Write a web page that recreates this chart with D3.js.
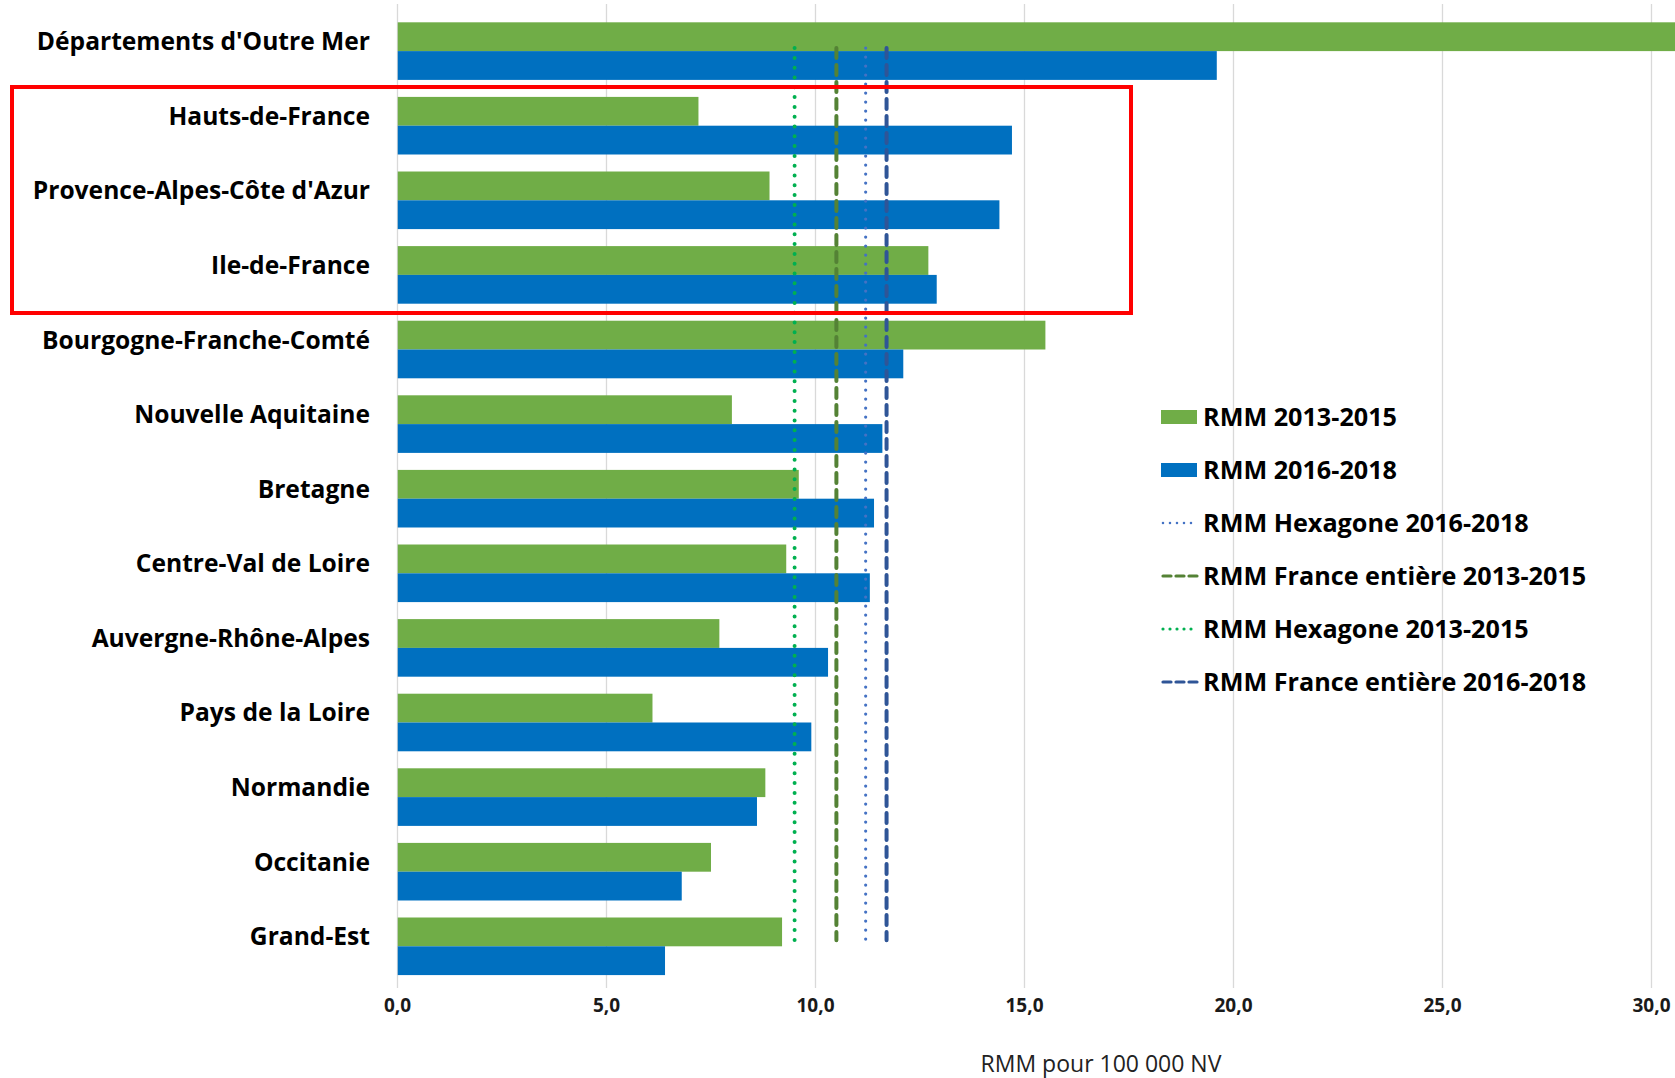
<!DOCTYPE html>
<html>
<head>
<meta charset="utf-8">
<script src="https://cdn.jsdelivr.net/npm/d3@7"></script>
<style>
  body { margin: 0; background: #fff; }
  svg { display: block; }
</style>
</head>
<body>
<script>
// regions, top to bottom
var regions = ["Départements d'Outre Mer", "Hauts-de-France", "Provence-Alpes-Côte d'Azur",
  "Ile-de-France", "Bourgogne-Franche-Comté", "Nouvelle Aquitaine", "Bretagne",
  "Centre-Val de Loire", "Auvergne-Rhône-Alpes", "Pays de la Loire", "Normandie",
  "Occitanie", "Grand-Est"];

var rmm1315 = [31.5, 7.2, 8.9, 12.7, 15.5, 8.0, 9.6, 9.3, 7.7, 6.1, 8.8, 7.5, 9.2];
var rmm1618 = [19.6, 14.7, 14.4, 12.9, 12.1, 11.6, 11.4, 11.3, 10.3, 9.9, 8.6, 6.8, 6.4];

// reference lines (national rates)
var refNames = ["RMM Hexagone 2016-2018", "RMM France entière 2013-2015",
  "RMM Hexagone 2013-2015", "RMM France entière 2016-2018"];
var refValues = [11.2, 10.5, 9.5, 11.7];

var xTicks = [0, 5, 10, 15, 20, 25, 30];

var width = 1675, height = 1078;
var font = "'Open Sans', Lato, sans-serif";

var svg = d3.select("body").append("svg")
  .attr("width", width)
  .attr("height", height);

svg.append("rect").attr("width", width).attr("height", height).attr("fill", "#fff");

var x = d3.scaleLinear().domain([0, 30]).range([397.5, 1651.5]);

var y = d3.scaleBand().domain(regions).range([5.3, 992.1])
  .paddingInner(0.228).paddingOuter(0.228);

var ySub = d3.scaleBand().domain(["a", "b"]).range([0, y.bandwidth()]);

svg.append("defs").append("clipPath").attr("id", "plot")
  .append("rect").attr("x", x(0)).attr("y", 0).attr("width", width - x(0)).attr("height", height);

// gridlines
svg.append("g").selectAll("line")
  .data(xTicks)
  .enter().append("line")
  .attr("x1", function(d) { return x(d); })
  .attr("x2", function(d) { return x(d); })
  .attr("y1", 4)
  .attr("y2", 988)
  .style("stroke", "#d9d9d9")
  .style("stroke-width", 1.3);

// bars
var bars = svg.append("g").attr("clip-path", "url(#plot)");

bars.selectAll("rect.a")
  .data(regions)
  .enter().append("rect")
  .attr("class", "a")
  .attr("x", x(0))
  .attr("y", function(d) { return y(d) + ySub("a"); })
  .attr("width", function(d, i) { return x(rmm1315[i]) - x(0); })
  .attr("height", ySub.bandwidth())
  .style("fill", "#70ad47");

bars.selectAll("rect.b")
  .data(regions)
  .enter().append("rect")
  .attr("class", "b")
  .attr("x", x(0))
  .attr("y", function(d) { return y(d) + ySub("b"); })
  .attr("width", function(d, i) { return x(rmm1618[i]) - x(0); })
  .attr("height", ySub.bandwidth())
  .style("fill", "#0070c0");

// line styles for the reference series
var refStyles = [
  { color: "#4472c4", width: 3.2, dash: "0,9" },
  { color: "#548235", width: 4, dash: "10,7" },
  { color: "#00b050", width: 4, dash: "0,9.8" },
  { color: "#2f5597", width: 4, dash: "10,7" }
];

var yTop = y(regions[0]) + y.bandwidth() / 2 - 3;
var yBot = y(regions[regions.length - 1]) + y.bandwidth() / 2 - 6;

svg.append("g").selectAll("line")
  .data(refValues)
  .enter().append("line")
  .attr("x1", function(d) { return x(d); })
  .attr("x2", function(d) { return x(d); })
  .attr("y1", yTop)
  .attr("y2", yBot)
  .style("stroke", function(d, i) { return refStyles[i].color; })
  .style("stroke-width", function(d, i) { return refStyles[i].width; })
  .style("stroke-dasharray", function(d, i) { return refStyles[i].dash; })
  .style("stroke-linecap", "round");

// category labels
svg.append("g").selectAll("text")
  .data(regions)
  .enter().append("text")
  .attr("x", 370)
  .attr("y", function(d) { return y(d) + y.bandwidth() / 2 - 1; })
  .attr("text-anchor", "end")
  .style("font-family", font)
  .style("font-weight", "bold")
  .style("font-size", "24.6px")
  .style("fill", "#000")
  .text(function(d) { return d; });

// x tick labels
svg.append("g").selectAll("text")
  .data(xTicks)
  .enter().append("text")
  .attr("x", function(d) { return x(d); })
  .attr("y", 1012)
  .attr("text-anchor", "middle")
  .style("font-family", font)
  .style("font-weight", "bold")
  .style("font-size", "19px")
  .style("fill", "#1a1a1a")
  .text(function(d) { return d3.format(".1f")(d).replace(".", ","); });

svg.append("text")
  .attr("x", 1101)
  .attr("y", 1072)
  .attr("text-anchor", "middle")
  .style("font-family", font)
  .style("font-size", "23px")
  .style("fill", "#222")
  .text("RMM pour 100 000 NV");

// highlight box
svg.append("rect")
  .attr("x", 12)
  .attr("y", 87)
  .attr("width", 1119)
  .attr("height", 226)
  .style("fill", "none")
  .style("stroke", "#ff0000")
  .style("stroke-width", 4);

// legend
var legendItems = [
  { name: "RMM 2013-2015", type: "bar", color: "#70ad47" },
  { name: "RMM 2016-2018", type: "bar", color: "#0070c0" }
].concat(refNames.map(function(n, i) {
  return { name: n, type: "line", style: refStyles[i] };
}));

var legend = svg.append("g").selectAll("g")
  .data(legendItems)
  .enter().append("g")
  .attr("transform", function(d, i) { return "translate(1161," + (417 + i * 53) + ")"; });

legend.filter(function(d) { return d.type === "bar"; })
  .append("rect")
  .attr("x", 0).attr("y", -7).attr("width", 36).attr("height", 14)
  .style("fill", function(d) { return d.color; });

legend.filter(function(d) { return d.type === "line"; })
  .append("line")
  .attr("x1", 2).attr("x2", 36).attr("y1", 0).attr("y2", 0)
  .style("stroke", function(d) { return d.style.color; })
  .style("stroke-width", function(d) { return d.style.width * 0.8; })
  .style("stroke-dasharray", function(d) { return d.style.dash === "10,7" ? "8,5" : "0,7"; })
  .style("stroke-linecap", "round");

legend.append("text")
  .attr("x", 42)
  .attr("y", 9)
  .style("font-family", font)
  .style("font-weight", "bold")
  .style("font-size", "25.2px")
  .style("fill", "#000")
  .text(function(d) { return d.name; });
</script>
</body>
</html>
